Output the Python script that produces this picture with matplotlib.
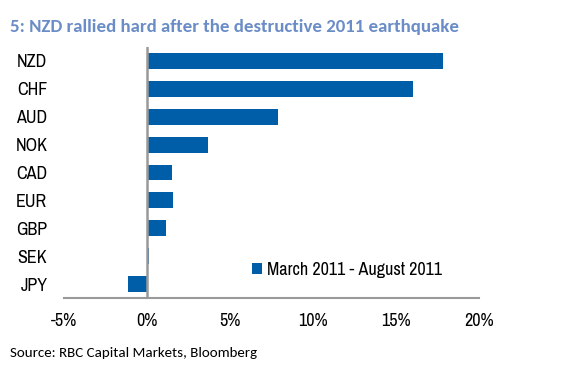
import matplotlib.pyplot as plt
from matplotlib import font_manager

# Currency moves, March 2011 - August 2011 (%)
currencies = ['NZD', 'CHF', 'AUD', 'NOK', 'CAD', 'EUR', 'GBP', 'SEK', 'JPY']
changes = [17.85, 16.0, 7.87, 3.65, 1.53, 1.55, 1.12, 0.14, -1.13]
xticks = [-5, 0, 5, 10, 15, 20]
xtick_labels = ['-5%', '0%', '5%', '10%', '15%', '20%']
series_name = 'March 2011 - August 2011'

names = {f.name for f in font_manager.fontManager.ttflist}


def pick(*cands):
    for c in cands:
        if c in names:
            return c
    return 'DejaVu Sans'


axis_font = pick('Liberation Sans Narrow', 'Arial Narrow', 'Archivo Narrow', 'Liberation Sans')
title_font = pick('Carlito', 'Calibri', 'Lato')
calibri_like = title_font in ('Carlito', 'Calibri')

bar_color = '#005EA8'
line_color = '#999999'

fig = plt.figure(figsize=(5.61, 3.83), dpi=100)
ax = fig.add_axes([64 / 561, 85 / 383, 415 / 561, 251 / 383])

pos = list(range(len(currencies)))
ax.barh(pos, changes, height=0.57, color=bar_color, label=series_name, zorder=2)
ax.set_ylim(len(currencies) - 0.5, -0.5)
ax.set_xlim(-5, 20)

ax.axvline(0, color=line_color, lw=1.8, zorder=3)
for s in ['top', 'right', 'left']:
    ax.spines[s].set_visible(False)
ax.spines['bottom'].set_color(line_color)
ax.spines['bottom'].set_linewidth(1.5)

ax.set_yticks(pos)
ax.set_yticklabels(currencies, fontsize=13, family=axis_font)
ax.set_xticks(xticks)
ax.set_xticklabels(xtick_labels, fontsize=13, family=axis_font)
ax.tick_params(axis='y', length=0, pad=12)
ax.tick_params(axis='x', length=0, pad=11)

ax.legend(loc='lower left', bbox_to_anchor=(0.415, 0.015), frameon=False,
          handlelength=0.5, handleheight=0.5, handletextpad=0.3,
          prop={'family': axis_font, 'size': 13})

fig.text(10 / 561, 1 - 27 / 383, '5: NZD rallied hard after the destructive 2011 earthquake',
         fontsize=13.6 if calibri_like else 11.5,
         fontweight='bold', color='#6A8CC7', family=title_font, va='center')
fig.text(10 / 561, 1 - 353 / 383, 'Source: RBC Capital Markets, Bloomberg',
         fontsize=10.85 if calibri_like else 10,
         color='black', family=title_font, va='center')

fig.savefig('out.png', dpi=100)
